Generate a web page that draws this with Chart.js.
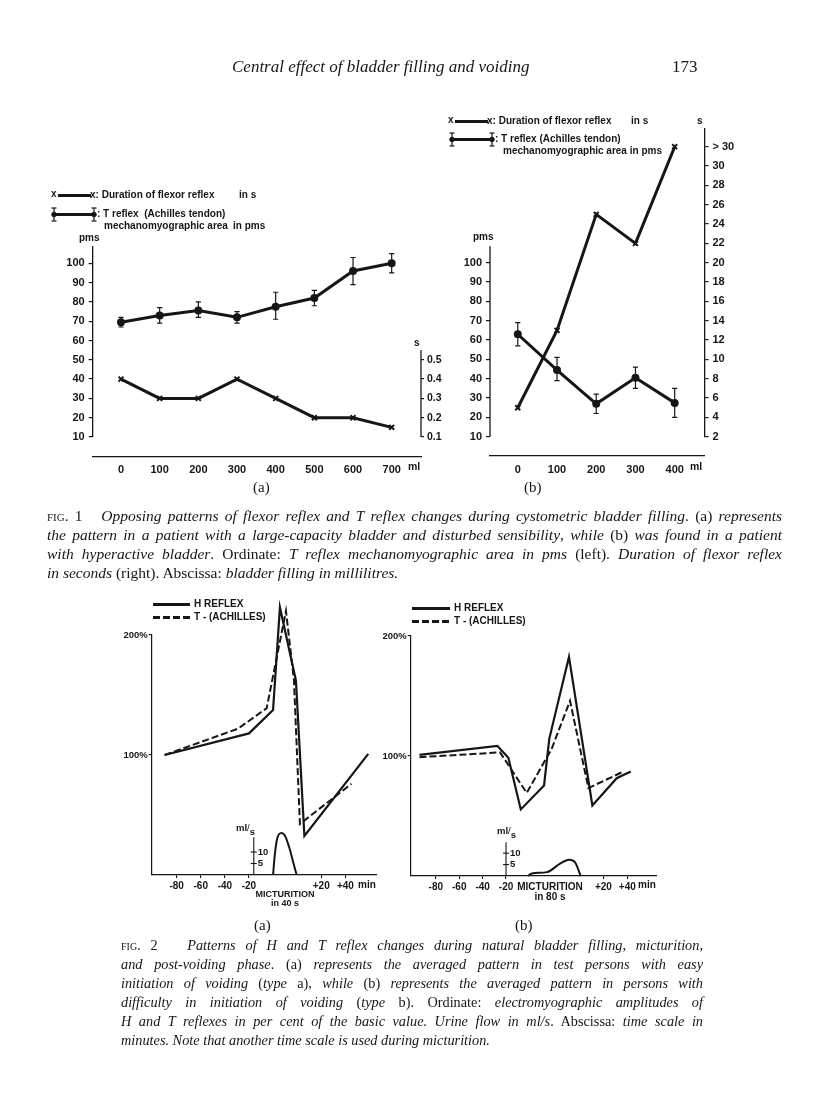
<!DOCTYPE html>
<html><head><meta charset="utf-8">
<script src="https://cdn.jsdelivr.net/npm/chart.js@4.4.1/dist/chart.umd.min.js"></script>
<style>
html,body{margin:0;padding:0;background:#fff}
body{width:816px;height:1118px;position:relative;overflow:hidden}
canvas{position:absolute;left:0;top:0}
.t{position:absolute;white-space:nowrap;font-family:"Liberation Sans",Arial,sans-serif;font-weight:bold;color:#161616;line-height:1}
.ser{position:absolute;white-space:nowrap;font-family:"Liberation Serif","Times New Roman",serif;color:#161616;line-height:1}
.cap{position:absolute;font-family:"Liberation Serif","Times New Roman",serif;color:#161616;font-size:15.5px}
.cap div{height:19px;line-height:19px;text-align:justify;text-align-last:justify;white-space:normal}
.cap div.last{text-align-last:left}
.sc{font-variant:small-caps}
.bar{position:absolute;background:#161616}
.dash{position:absolute;background:repeating-linear-gradient(90deg,#161616 0 7px,transparent 7px 10px)}
svg{position:absolute}
</style></head><body>
<canvas id="c1a" width="816" height="1118"></canvas>
<canvas id="c1b" width="816" height="1118"></canvas>
<canvas id="c2a" width="816" height="1118"></canvas>
<canvas id="c2b" width="816" height="1118"></canvas>

<!-- page header -->
<div class="ser" style="left:232px;top:58px;font-size:17px;font-style:italic">Central effect of bladder filling and voiding</div>
<div class="ser" style="left:672px;top:58px;font-size:17px">173</div>

<!-- Fig 1a legend -->
<div class="t" style="left:51px;top:189px;font-size:10px">x</div>
<div class="bar" style="left:58px;top:193.5px;width:33px;height:3px"></div>
<div class="t" style="left:90px;top:189.5px;font-size:10px">x: Duration of flexor reflex</div>
<div class="t" style="left:239px;top:189.5px;font-size:10px">in s</div>
<svg style="left:48px;top:206px" width="54" height="17"><g stroke="#161616" fill="#161616"><line x1="6" y1="8.5" x2="46" y2="8.5" stroke-width="3"/><line x1="6" y1="2" x2="6" y2="15" stroke-width="1.2"/><line x1="3.5" y1="2" x2="8.5" y2="2" stroke-width="1.2"/><line x1="3.5" y1="15" x2="8.5" y2="15" stroke-width="1.2"/><circle cx="6" cy="8.5" r="2.3"/><line x1="46" y1="2" x2="46" y2="15" stroke-width="1.2"/><line x1="43.5" y1="2" x2="48.5" y2="2" stroke-width="1.2"/><line x1="43.5" y1="15" x2="48.5" y2="15" stroke-width="1.2"/><circle cx="46" cy="8.5" r="2.3"/></g></svg>
<div class="t" style="left:97px;top:209px;font-size:10px">: T reflex&nbsp; (Achilles tendon)</div>
<div class="t" style="left:104px;top:220.5px;font-size:10px">mechanomyographic area</div>
<div class="t" style="left:233px;top:220.5px;font-size:10px">in pms</div>
<div class="t" style="left:79px;top:233px;font-size:10px">pms</div>
<div class="t" style="left:414px;top:338px;font-size:10px">s</div>
<div class="t" style="left:408px;top:461px;font-size:10.5px">ml</div>
<div class="ser" style="left:253px;top:480px;font-size:15px">(a)</div>

<!-- Fig 1b legend -->
<div class="t" style="left:448px;top:115px;font-size:10px">x</div>
<div class="bar" style="left:455px;top:119.5px;width:33px;height:3px"></div>
<div class="t" style="left:487px;top:115.5px;font-size:10px">x: Duration of flexor reflex</div>
<div class="t" style="left:631px;top:115.5px;font-size:10px">in s</div>
<div class="t" style="left:697px;top:115.5px;font-size:10px">s</div>
<svg style="left:446px;top:131px" width="54" height="17"><g stroke="#161616" fill="#161616"><line x1="6" y1="8.5" x2="46" y2="8.5" stroke-width="3"/><line x1="6" y1="2" x2="6" y2="15" stroke-width="1.2"/><line x1="3.5" y1="2" x2="8.5" y2="2" stroke-width="1.2"/><line x1="3.5" y1="15" x2="8.5" y2="15" stroke-width="1.2"/><circle cx="6" cy="8.5" r="2.3"/><line x1="46" y1="2" x2="46" y2="15" stroke-width="1.2"/><line x1="43.5" y1="2" x2="48.5" y2="2" stroke-width="1.2"/><line x1="43.5" y1="15" x2="48.5" y2="15" stroke-width="1.2"/><circle cx="46" cy="8.5" r="2.3"/></g></svg>
<div class="t" style="left:495px;top:134px;font-size:10px">: T reflex (Achilles tendon)</div>
<div class="t" style="left:503px;top:146px;font-size:10px">mechanomyographic area in pms</div>
<div class="t" style="left:473px;top:232px;font-size:10px">pms</div>
<div class="t" style="left:690px;top:461px;font-size:10.5px">ml</div>
<div class="ser" style="left:524px;top:480px;font-size:15px">(b)</div>

<!-- Fig 1 caption -->
<div class="cap" style="left:47px;top:506px;width:735px">
<div><span class="sc">fig.</span> 1&nbsp;&nbsp; <i>Opposing patterns of flexor reflex and T reflex changes during cystometric bladder filling</i>. (a) <i>represents</i></div>
<div><i>the pattern in a patient with a large-capacity bladder and disturbed sensibility</i>, <i>while</i> (b) <i>was found in a patient</i></div>
<div><i>with hyperactive bladder</i>. Ordinate: <i>T reflex mechanomyographic area in pms</i> (left). <i>Duration of flexor reflex</i></div>
<div class="last"><i>in seconds</i> (right). Abscissa: <i>bladder filling in millilitres.</i></div>
</div>

<!-- Fig 2a legend -->
<div class="bar" style="left:153px;top:603px;width:37px;height:2.5px"></div>
<div class="t" style="left:194px;top:599px;font-size:10px">H REFLEX</div>
<div class="dash" style="left:153px;top:616px;width:37px;height:2.5px"></div>
<div class="t" style="left:194px;top:612px;font-size:10px">T - (ACHILLES)</div>
<div class="t" style="left:236px;top:823px;font-size:9.5px">ml<span style="font-weight:normal">/</span><span style="position:relative;top:4px">s</span></div>
<div class="t" style="left:358px;top:880px;font-size:10px">min</div>
<div class="ser" style="left:254px;top:918px;font-size:15px">(a)</div>

<!-- Fig 2b legend -->
<div class="bar" style="left:412px;top:607px;width:38px;height:2.5px"></div>
<div class="t" style="left:454px;top:603px;font-size:10px">H REFLEX</div>
<div class="dash" style="left:412px;top:620px;width:38px;height:2.5px"></div>
<div class="t" style="left:454px;top:616px;font-size:10px">T - (ACHILLES)</div>
<div class="t" style="left:497px;top:826px;font-size:9.5px">ml<span style="font-weight:normal">/</span><span style="position:relative;top:4px">s</span></div>
<div class="t" style="left:638px;top:880px;font-size:10px">min</div>
<div class="ser" style="left:515px;top:918px;font-size:15px">(b)</div>

<!-- Fig 2 caption -->
<div class="cap" style="left:121px;top:935.5px;width:582px;font-size:14.3px">
<div><span class="sc">fig.</span> 2&nbsp;&nbsp; <i>Patterns of H and T reflex changes during natural bladder filling</i>, <i>micturition</i>,</div>
<div><i>and post-voiding phase</i>. (a) <i>represents the averaged pattern in test persons with easy</i></div>
<div><i>initiation of voiding</i> (<i>type</i> a), <i>while</i> (b) <i>represents the averaged pattern in persons with</i></div>
<div><i>difficulty in initiation of voiding</i> (<i>type</i> b). Ordinate: <i>electromyographic amplitudes of</i></div>
<div><i>H and T reflexes in per cent of the basic value. Urine flow in ml/s</i>. Abscissa: <i>time scale in</i></div>
<div class="last"><i>minutes. Note that another time scale is used during micturition.</i></div>
</div>

<script>
// ================= DATA =================
// Fig 1a : large-capacity bladder
const f1aVolume   = [0, 100, 200, 300, 400, 500, 600, 700];          // ml
const f1aTreflex  = [69.5, 73, 75.5, 72, 77.5, 82, 96, 100];        // pms
const f1aTlow     = [67, 69, 72, 69, 71, 78, 89, 95];
const f1aThigh    = [72, 77, 80, 75, 85, 86, 103, 105];
const f1aFlexor   = [0.4, 0.3, 0.3, 0.4, 0.3, 0.2, 0.2, 0.15];      // s
const f1aLeftTicks   = [10, 20, 30, 40, 50, 60, 70, 80, 90, 100];
const f1aRightTicks  = [0.1, 0.2, 0.3, 0.4, 0.5];
const f1aRightLabels = ['0.1', '0.2', '0.3', '0.4', '0.5'];

// Fig 1b : hyperactive bladder
const f1bVolume   = [0, 100, 200, 300, 400];
const f1bTreflex  = [63, 44.5, 27, 40.5, 27.5];
const f1bTlow     = [57, 39, 22, 35, 20];
const f1bThigh    = [69, 51, 32, 46, 35];
const f1bFlexor   = [5, 13, 25, 22, 32];
const f1bLeftTicks   = [10, 20, 30, 40, 50, 60, 70, 80, 90, 100];
const f1bRightTicks  = [2, 4, 6, 8, 10, 12, 14, 16, 18, 20, 22, 24, 26, 28, 30, 32];
const f1bRightLabels = ['2','4','6','8','10','12','14','16','18','20','22','24','26','28','30','> 30'];

// Fig 2a : easy initiation of voiding (x = position on the broken time axis)
const f2aHx = [-90, -20, 0, 5.7, 19, 26, 79];
const f2aHy = [100, 118, 137.5, 223, 162, 32.5, 101];
const f2aTx = [-90, -29, -5.3, 10.7, 17.3, 22.3, 65];
const f2aTy = [100, 122, 139, 220, 163, 42.5, 76];
const f2aFlowX = [0, 1.5, 3.5, 7, 10, 14, 17, 19.6];
const f2aFlowY = [0, 9, 16, 18.3, 17, 11, 5, 0];                    // ml/s
const f2aTickPos    = [-80, -60, -40, -20, 10, 40, 60];
const f2aTickLabels = ['-80', '-60', '-40', '-20', ['', 'MICTURITION', 'in 40 s'], '+20', '+40'];

// Fig 2b : difficult initiation of voiding
const f2bHx = [-94, -27.4, -18, -7.4, 12.5, 17, 33.8, 53.8, 74.6, 86.6];
const f2bHy = [101, 108.5, 98.6, 55.5, 75.5, 114.5, 182.6, 58.8, 81.5, 87];
const f2bTx = [-94, -25.1, -2.3, 19, 34.7, 50.4, 80.3];
const f2bTy = [99, 103, 69.2, 106, 146, 73.3, 87];
const f2bFlowX = [-1.2, 1.4, 15, 26.2, 33.8, 39, 43.8];
const f2bFlowY = [0, 1, 1.7, 5.4, 7.1, 6, 0];
const f2bTickPos    = [-80, -60, -40, -20, 17.6, 63.2, 83.7];
const f2bTickLabels = ['-80', '-60', '-40', '-20', ['MICTURITION', 'in 80 s'], '+20', '+40'];

const f2PctTicks  = [100, 200];
const f2PctLabels = ['100%', '200%'];
const f2FlowTicks  = [5, 10];
const f2FlowLabels = ['5', '10'];

// ================= HELPERS =================
const INK = '#161616';
const W = 816, H = 1118;
const pts = (xs, ys) => xs.map((x, i) => ({x: x, y: ys[i]}));
function errData(xs, lo, hi) {
  const d = [];
  xs.forEach((x, i) => { d.push({x: x, y: lo[i]}, {x: x, y: hi[i]}, {x: x, y: null}); });
  return d;
}
const fixTicks = arr => (s => { s.ticks = arr.map(v => ({value: v})); });
const bold = (size, lh) => ({family: '"Liberation Sans", Arial, sans-serif', weight: 'bold', size: size, lineHeight: lh || 1.2});

function segAxis(items) {
  return {
    id: 'segAxis',
    afterDatasetsDraw(chart) {
      const ctx = chart.ctx;
      items.forEach(it => {
        const s = chart.scales[it.scale];
        const x = it.atX !== undefined ? chart.scales.x.getPixelForValue(it.atX)
                                       : (s.position === 'right' ? s.left : s.right);
        const ya = s.getPixelForValue(it.from), yb = s.getPixelForValue(it.to);
        ctx.save();
        ctx.strokeStyle = INK; ctx.lineWidth = it.lineWidth || 1.3;
        ctx.beginPath(); ctx.moveTo(x, ya); ctx.lineTo(x, yb); ctx.stroke();
        if (it.ticks) {
          ctx.font = 'bold 9.5px "Liberation Sans", Arial, sans-serif';
          ctx.fillStyle = INK; ctx.textAlign = 'left'; ctx.textBaseline = 'middle';
          it.ticks.forEach((v, i) => {
            const y = s.getPixelForValue(v);
            ctx.beginPath(); ctx.moveTo(x - 3, y); ctx.lineTo(x + 3, y); ctx.stroke();
            ctx.fillText(it.labels[i], x + 4, y);
          });
        }
        ctx.restore();
      });
    }
  };
}

function base(area) {
  return {
    responsive: false, animation: false, devicePixelRatio: 1, events: [],
    layout: {padding: {left: area.L - 40, right: W - area.R - (area.rw || 0), top: area.T, bottom: H - area.B - (area.bh || 0)}},
    plugins: {legend: {display: false}, tooltip: {enabled: false}}
  };
}

// ================= FIG 1a =================
(function () {
  const area = {L: 92.7, R: 421, T: 246.7, B: 437, rw: 40};
  const opts = base(area);
  opts.scales = {
    x: {type: 'linear', position: {y: 0}, min: -73.2, max: 775.8,
        afterBuildTicks: fixTicks(f1aVolume),
        ticks: {font: bold(11), color: INK, padding: 7, callback: v => String(v)},
        grid: {display: false, drawTicks: false}, border: {display: true, color: INK, width: 1.3}},
    y: {type: 'linear', position: 'left', min: 10, max: 108.6,
        afterFit: s => { s.width = 40; }, afterBuildTicks: fixTicks(f1aLeftTicks),
        ticks: {font: bold(11), color: INK, padding: 4, callback: v => String(v)},
        grid: {drawOnChartArea: false, tickLength: 4, color: INK, lineWidth: 1.2},
        border: {display: true, color: INK, width: 1.3}},
    y2: {type: 'linear', position: 'right', min: 0.1, max: 1.086,
        afterFit: s => { s.width = 40; }, afterBuildTicks: fixTicks(f1aRightTicks),
        ticks: {font: bold(10.5), color: INK, padding: 3, callback: (v, i) => f1aRightLabels[i]},
        grid: {drawOnChartArea: false, tickLength: 3, color: INK, lineWidth: 1.2},
        border: {display: false}}
  };
  new Chart(document.getElementById('c1a'), {
    type: 'line',
    data: {datasets: [
      {data: errData(f1aVolume, f1aTlow, f1aThigh), yAxisID: 'y', borderColor: INK, borderWidth: 1.2,
       pointStyle: 'line', pointRadius: 2.6, pointBorderWidth: 1.2, pointBorderColor: INK, spanGaps: false},
      {data: pts(f1aVolume, f1aTreflex), yAxisID: 'y', borderColor: INK, borderWidth: 3,
       pointStyle: 'circle', pointRadius: 2.5, pointBackgroundColor: INK, pointBorderColor: INK},
      {data: pts(f1aVolume, f1aFlexor), yAxisID: 'y2', borderColor: INK, borderWidth: 3,
       pointStyle: 'crossRot', pointRadius: 3.5, pointBorderWidth: 2, pointBorderColor: INK}
    ]},
    options: opts,
    plugins: [segAxis([{scale: 'y2', from: 0.1, to: 0.55}])]
  });
})();

// ================= FIG 1b =================
(function () {
  const area = {L: 490, R: 704.5, T: 129, B: 436.7, rw: 40};
  const opts = base(area);
  opts.scales = {
    x: {type: 'linear', position: {y: 0}, min: -70.8, max: 476,
        afterBuildTicks: fixTicks(f1bVolume),
        ticks: {font: bold(11), color: INK, padding: 7, callback: v => String(v)},
        grid: {display: false, drawTicks: false}, border: {display: true, color: INK, width: 1.3}},
    y: {type: 'linear', position: 'left', min: 10, max: 169.2,
        afterFit: s => { s.width = 40; }, afterBuildTicks: fixTicks(f1bLeftTicks),
        ticks: {font: bold(11), color: INK, padding: 4, callback: v => String(v)},
        grid: {drawOnChartArea: false, tickLength: 4, color: INK, lineWidth: 1.2},
        border: {display: false}},
    y2: {type: 'linear', position: 'right', min: 2, max: 33.83,
        afterFit: s => { s.width = 40; }, afterBuildTicks: fixTicks(f1bRightTicks),
        ticks: {font: bold(11), color: INK, padding: 4, callback: (v, i) => f1bRightLabels[i]},
        grid: {drawOnChartArea: false, tickLength: 4, color: INK, lineWidth: 1.2},
        border: {display: true, color: INK, width: 1.3}}
  };
  new Chart(document.getElementById('c1b'), {
    type: 'line',
    data: {datasets: [
      {data: errData(f1bVolume, f1bTlow, f1bThigh), yAxisID: 'y', borderColor: INK, borderWidth: 1.2,
       pointStyle: 'line', pointRadius: 2.6, pointBorderWidth: 1.2, pointBorderColor: INK, spanGaps: false},
      {data: pts(f1bVolume, f1bTreflex), yAxisID: 'y', borderColor: INK, borderWidth: 3,
       pointStyle: 'circle', pointRadius: 2.5, pointBackgroundColor: INK, pointBorderColor: INK},
      {data: pts(f1bVolume, f1bFlexor), yAxisID: 'y2', borderColor: INK, borderWidth: 3,
       pointStyle: 'crossRot', pointRadius: 3.5, pointBorderWidth: 2, pointBorderColor: INK}
    ]},
    options: opts,
    plugins: [segAxis([{scale: 'y', from: 10, to: 108.6}])]
  });
})();

// ================= FIG 2 =================
function fig2(id, area, xmin, xmax, tickPos, tickLabels, microFont, Hx, Hy, Tx, Ty, Fx, Fy, flowMax, flowAt, flowTop) {
  const opts = base(area);
  const micIdx = 4;
  opts.scales = {
    x: {type: 'linear', position: 'bottom', min: xmin, max: xmax,
        afterFit: s => { s.height = 45; }, afterBuildTicks: fixTicks(tickPos),
        ticks: {color: INK, padding: 3, maxRotation: 0, autoSkip: false,
                font: ctx => (ctx.index === micIdx ? bold(microFont, 1.0) : bold(10, 1.0)),
                callback: (v, i) => tickLabels[i]},
        grid: {drawOnChartArea: false, tickLength: 3, lineWidth: 1.1,
               tickColor: ctx => (ctx.index === micIdx ? 'rgba(0,0,0,0)' : INK)},
        border: {display: true, color: INK, width: 1.2}},
    y: {type: 'linear', position: 'left', min: 0, max: 200,
        afterFit: s => { s.width = 40; }, afterBuildTicks: fixTicks(f2PctTicks),
        ticks: {font: bold(9.5), color: INK, padding: 1, callback: (v, i) => f2PctLabels[i]},
        grid: {drawOnChartArea: false, tickLength: 3, color: INK, lineWidth: 1.1},
        border: {display: true, color: INK, width: 1.2}},
    y2: {type: 'linear', position: 'right', display: false, min: 0, max: flowMax}
  };
  new Chart(document.getElementById(id), {
    type: 'line',
    data: {datasets: [
      {data: pts(Hx, Hy), borderColor: INK, borderWidth: 2.2, pointRadius: 0, clip: false},
      {data: pts(Tx, Ty), borderColor: INK, borderWidth: 2, borderDash: [7, 3], pointRadius: 0, clip: false},
      {data: pts(Fx, Fy), yAxisID: 'y2', borderColor: INK, borderWidth: 2, pointRadius: 0,
       cubicInterpolationMode: 'monotone', clip: false}
    ]},
    options: opts,
    plugins: [segAxis([{scale: 'y2', atX: flowAt, from: 0, to: flowTop, lineWidth: 1.1,
                        ticks: f2FlowTicks, labels: f2FlowLabels}])]
  });
}
fig2('c2a', {L: 151.7, R: 376.7, T: 635, B: 875, bh: 45}, -100.7, 86, f2aTickPos, f2aTickLabels, 9,
     f2aHx, f2aHy, f2aTx, f2aTy, f2aFlowX, f2aFlowY, 104.4, -16, 16.4);
fig2('c2b', {L: 410.7, R: 656.7, T: 636, B: 876, bh: 45}, -101.5, 108.8, f2bTickPos, f2bTickLabels, 10,
     f2bHx, f2bHy, f2bTx, f2bTy, f2bFlowX, f2bFlowY, 105, -20, 14.8);
</script>
</body></html>
